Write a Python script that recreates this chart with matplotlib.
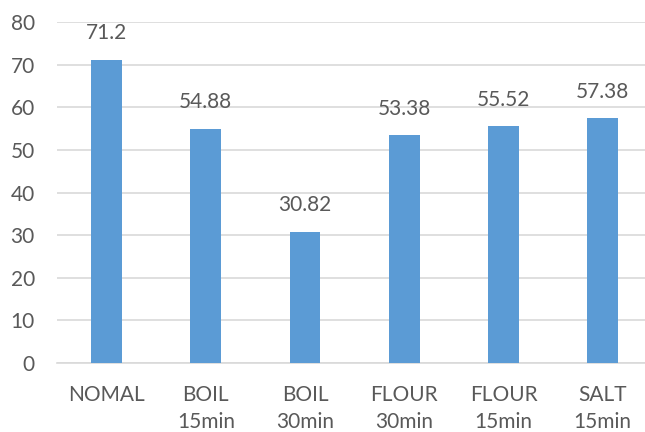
import matplotlib.pyplot as plt

# Chart data
categories = ['NOMAL', 'BOIL\n15min', 'BOIL\n30min', 'FLOUR\n30min', 'FLOUR\n15min', 'SALT\n15min']
values = [71.2, 54.88, 30.82, 53.38, 55.52, 57.38]
value_labels = ['71.2', '54.88', '30.82', '53.38', '55.52', '57.38']
y_ticks = [0, 10, 20, 30, 40, 50, 60, 70, 80]

plt.rcParams['font.family'] = ['Lato', 'DejaVu Sans']
text_color = '#595959'
grid_color = '#D9D9D9'

fig = plt.figure(figsize=(6.45, 4.32), dpi=100)
ax = fig.add_axes([0.0884, 0.1597, 0.923, 0.7893])

x = range(len(categories))
bars = ax.bar(x, values, width=0.31, color='#5B9BD5', zorder=3)

# value labels above bars
for b, lab in zip(bars, value_labels):
    ax.annotate(lab, (b.get_x() + b.get_width() / 2, b.get_height()),
                xytext=(0, 12), textcoords='offset points',
                ha='center', va='bottom', fontsize=15, color=text_color)

ax.set_xlim(-0.5, len(categories) - 0.5)
ax.set_ylim(0, 80)
ax.set_yticks(y_ticks)
ax.set_xticks(list(x))
ax.set_xticklabels(categories, linespacing=1.45)

ax.yaxis.grid(True, color=grid_color, linewidth=1.2, zorder=0)
ax.tick_params(axis='both', length=0, labelsize=15, colors=text_color)
ax.tick_params(axis='y', pad=16)
ax.tick_params(axis='x', pad=16)

for side in ['top', 'right', 'left']:
    ax.spines[side].set_visible(False)
ax.spines['bottom'].set_color(grid_color)
ax.spines['bottom'].set_linewidth(1.2)

fig.savefig('out.png', dpi=100)
